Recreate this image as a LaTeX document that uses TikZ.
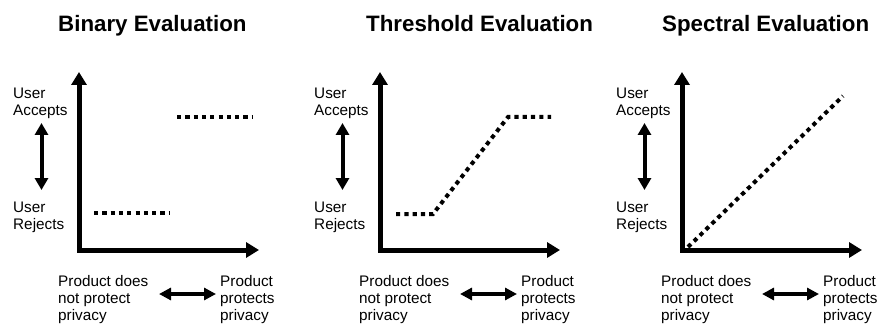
\documentclass[tikz,border=0pt]{standalone}
\usepackage{fontspec}
\setmainfont{Liberation Sans}
\usetikzlibrary{arrows.meta}
\begin{document}
\begin{tikzpicture}[x=1pt,y=-1pt,
  axis/.style={line width=5pt,
    {Triangle[length=13pt,width=15pt]}-{Triangle[length=13pt,width=15pt]}},
  vdouble/.style={line width=4pt,
    {Triangle[length=12pt,width=13pt]}-{Triangle[length=12pt,width=13pt]}},
  hdouble/.style={line width=4pt,
    {Triangle[length=12pt,width=12pt]}-{Triangle[length=12pt,width=12pt]}},
  dotline/.style={line width=4pt, dash pattern=on 4.2pt off 4.1pt},
  lbl/.style={anchor=north west, inner sep=0pt, align=left,
    font=\fontsize{15.3}{17}\selectfont},
  ttl/.style={anchor=north west, inner sep=0pt,
    font=\fontsize{22.3}{26}\selectfont\bfseries}]
\useasboundingbox (0,0) rectangle (883,326);

\foreach \i/\dx in {1/0,2/301,3/603}{
  \begin{scope}[xshift=\dx pt]
    \coordinate (ytop\i) at (79,72);
    \coordinate (org\i) at (79,250);
    \coordinate (xend\i) at (259,250);
    \draw[axis] (ytop\i) -- (org\i) -- (xend\i);
    \node[lbl] (acc\i) at (13,88) {User\\Accepts};
    \node[lbl] (rej\i) at (13,202) {User\\Rejects};
    \coordinate (va\i) at (41.5,123);
    \coordinate (vb\i) at (41.5,190);
    \draw[vdouble] (va\i) -- (vb\i);
    \node[lbl] (nop\i) at (58,275) {Product does\\not protect\\privacy};
    \node[lbl] (yesp\i) at (220,275) {Product\\protects\\privacy};
    \coordinate (ha\i) at (159,294);
    \coordinate (hb\i) at (216,294);
    \draw[hdouble] (ha\i) -- (hb\i);
  \end{scope}
}

\node[ttl] (t1) at (58,15) {Binary Evaluation};
\node[ttl] (t2) at (366,15) {Threshold Evaluation};
\node[ttl] (t3) at (662,15) {Spectral Evaluation};

% Binary
\coordinate (b1) at (177,117);
\coordinate (b2) at (253,117);
\coordinate (b3) at (94,213);
\coordinate (b4) at (170,213);
\draw[dotline] (b1) -- (b2);
\draw[dotline] (b3) -- (b4);

% Threshold
\coordinate (th1) at (396,214);
\coordinate (th2) at (433,214);
\coordinate (th3) at (508,117);
\coordinate (th4) at (551,117);
\draw[dotline] (th1) -- (th2) -- (th3) -- (th4);

% Spectral
\coordinate (s1) at (688,247);
\coordinate (s2) at (843,96);
\draw[dotline] (s1) -- (s2);
\end{tikzpicture}
\end{document}
